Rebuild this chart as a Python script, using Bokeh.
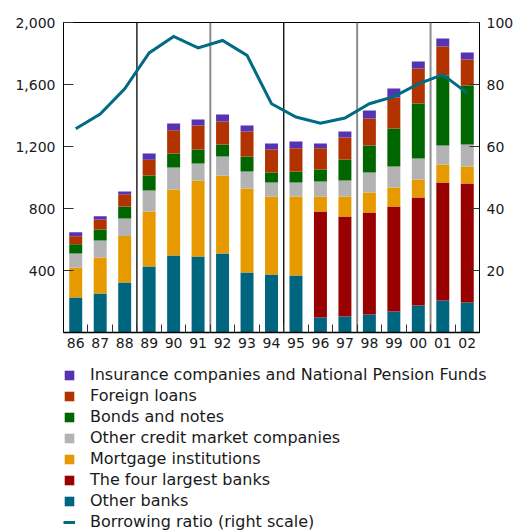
from bokeh.plotting import figure
from bokeh.layouts import column
from bokeh.models import (Range1d, LinearAxis, FixedTicker, Span, Legend, LegendItem,
                          ColumnDataSource, NumeralTickFormatter)
from bokeh.embed import file_html
from bokeh.resources import INLINE

years = ["86", "87", "88", "89", "90", "91", "92", "93", "94", "95", "96", "97", "98", "99", "00", "01", "02"]

other_banks = [226, 252, 323, 426, 497, 490, 510, 387, 374, 368, 97, 103, 116, 135, 174, 206, 194]
four_largest = [0, 0, 0, 0, 0, 0, 0, 0, 0, 0, 684, 645, 658, 678, 697, 762, 767]
mortgage = [193, 232, 299, 355, 426, 491, 503, 542, 503, 509, 96, 129, 129, 122, 116, 116, 110]
other_credit = [91, 110, 113, 135, 142, 109, 122, 110, 91, 91, 97, 104, 129, 136, 136, 122, 142]
bonds = [60, 71, 78, 97, 90, 91, 78, 96, 64, 71, 78, 135, 174, 245, 354, 452, 381]
foreign = [51, 64, 79, 101, 150, 154, 148, 162, 149, 150, 137, 142, 175, 200, 226, 187, 167]
insurance = [26, 21, 18, 41, 43, 39, 45, 38, 38, 43, 30, 39, 51, 58, 45, 52, 45]
ratio = [65.7, 70.5, 78.6, 90.2, 95.5, 91.8, 94.2, 89.4, 73.8, 69.5, 67.5, 69.2, 73.8, 76.1, 80.2, 83.2, 77.2]

left_ticks = [400, 800, 1200, 1600, 2000]
right_ticks = [20, 40, 60, 80, 100]

series_keys = ["other_banks", "four_largest", "mortgage", "other_credit", "bonds", "foreign", "insurance"]
series_names = ["Other banks", "The four largest banks", "Mortgage institutions",
                "Other credit market companies", "Bonds and notes", "Foreign loans",
                "Insurance companies and National Pension Funds"]
colors = ["#00667F", "#990000", "#E69A00", "#B3B3B3", "#006600", "#B33300", "#5533B3"]
line_name = "Borrowing ratio (right scale)"
line_color = "#006B82"

# period separators: after these years
sep_after = ["88", "91", "94", "97", "00"]
sep_colors = ["#000000", "#8C8C8C", "#000000", "#8C8C8C", "#8C8C8C"]

xs = list(range(len(years)))
src = ColumnDataSource(dict(x=xs, other_banks=other_banks, four_largest=four_largest,
                           mortgage=mortgage, other_credit=other_credit, bonds=bonds,
                           foreign=foreign, insurance=insurance, ratio=ratio))

FONT = "DejaVu Sans"
TXT = "#1a1a1a"

p = figure(width=516, height=353, output_backend="svg", toolbar_location=None,
           x_range=Range1d(-0.5, len(years) - 0.5), y_range=Range1d(0, 2000),
           min_border_left=63, min_border_right=37, min_border_top=22, min_border_bottom=21)
p.frame_align = False
p.extra_y_ranges = {"ratio": Range1d(0, 100)}
p.outline_line_color = "black"
p.outline_line_width = 1
p.xgrid.visible = False
p.ygrid.visible = False
p.background_fill_color = "white"
p.border_fill_color = "white"

for name, col in zip(sep_after, sep_colors):
    loc = years.index(name) + 0.5
    p.add_layout(Span(location=loc, dimension="height", line_color=col,
                      line_width=1.3 if col == "#000000" else 2, level="underlay"))

bars = p.vbar_stack(series_keys, x="x", width=0.53, color=colors, source=src, line_color=None)
ln = p.line(x="x", y="ratio", source=src, y_range_name="ratio", line_color=line_color,
            line_width=3, line_join="miter")

# x axis
xa = p.xaxis[0]
xa.ticker = FixedTicker(ticks=xs, minor_ticks=[i + 0.5 for i in xs[:-1]])
xa.major_label_overrides = {i: y for i, y in enumerate(years)}
xa.major_tick_line_color = None
xa.major_tick_in = 0
xa.major_tick_out = 0
xa.minor_tick_in = 8
xa.minor_tick_out = 0
xa.minor_tick_line_color = "#333333"
xa.major_label_standoff = 5
xa.axis_line_color = "black"
xa.axis_line_width = 1.5

# left axis
ya = p.yaxis[0]
ya.ticker = FixedTicker(ticks=left_ticks)
ya.formatter = NumeralTickFormatter(format="0,0")
ya.major_tick_in = 10
ya.major_tick_out = 0
ya.minor_tick_line_color = None
ya.major_label_standoff = 8
ya.axis_line_color = "black"
ya.major_tick_line_color = "#333333"

ra = LinearAxis(y_range_name="ratio", ticker=FixedTicker(ticks=right_ticks))
ra.major_tick_in = 10
ra.major_tick_out = 0
ra.minor_tick_line_color = None
ra.major_label_standoff = 7
ra.axis_line_color = "black"
ra.major_tick_line_color = "#333333"
p.add_layout(ra, "right")

for ax in [xa, ya, ra]:
    ax.major_label_text_font = FONT
    ax.major_label_text_font_size = "14px"
    ax.major_label_text_color = TXT

# legend figure (hidden renderers only provide the legend swatches)
q = figure(width=516, height=179, output_backend="svg", toolbar_location=None,
           x_range=Range1d(0, 1), y_range=Range1d(0, 1),
           x_axis_location=None, y_axis_location=None,
           min_border_left=0, min_border_right=0, min_border_top=0, min_border_bottom=0)
q.frame_align = False
q.outline_line_color = None
q.xgrid.visible = False
q.ygrid.visible = False

items = []
for key, c, nm in zip(reversed(series_keys), reversed(colors), reversed(series_names)):
    r = q.vbar(x="x", top=key, width=0.5, fill_color=c, line_color=None, source=src, visible=False)
    items.append(LegendItem(label=nm, renderers=[r]))
rl = q.line(x="x", y="ratio", source=src, line_color=line_color, line_width=3, visible=False)
items.append(LegendItem(label=line_name, renderers=[rl]))

legend = Legend(items=items, location=(63, 0), orientation="vertical",
                label_text_font=FONT, label_text_font_size="16px", label_text_color=TXT,
                glyph_width=12, glyph_height=12, label_standoff=15, spacing=0,
                label_height=21, padding=0, margin=0, border_line_color=None,
                background_fill_alpha=0, inactive_fill_alpha=0)
q.add_layout(legend)

layout = column(p, q, spacing=0)
open("out.html", "w").write(file_html(layout, INLINE))
